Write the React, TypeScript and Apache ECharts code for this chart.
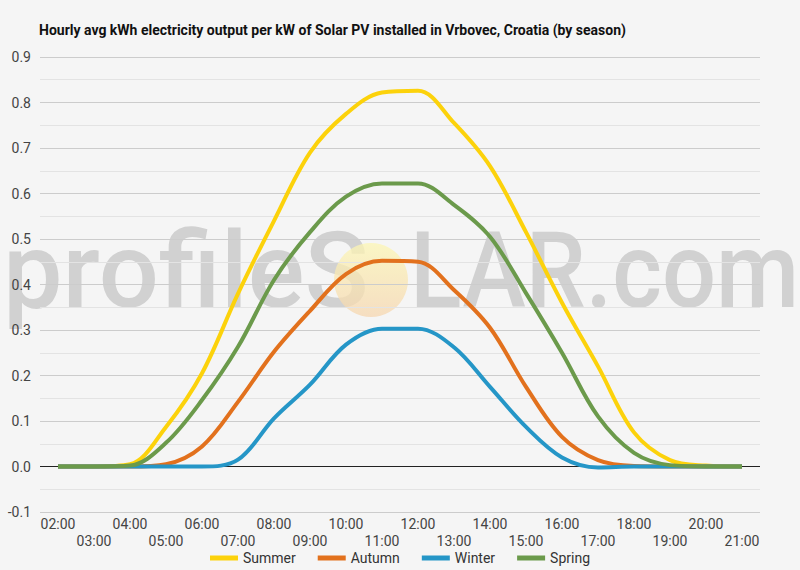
import React, { useEffect, useRef } from "react";
import * as echarts from "echarts";

const hours = [
  "02:00", "03:00", "04:00", "05:00", "06:00", "07:00", "08:00", "09:00", "10:00", "11:00",
  "12:00", "13:00", "14:00", "15:00", "16:00", "17:00", "18:00", "19:00", "20:00", "21:00",
];

const summer = [0, 0, 0.005, 0.087, 0.205, 0.38, 0.54, 0.69, 0.775, 0.822, 0.826, 0.755, 0.66, 0.515, 0.36, 0.22, 0.075, 0.014, 0.002, 0];
const autumn = [0, 0, 0, 0.005, 0.044, 0.142, 0.252, 0.342, 0.423, 0.452, 0.45, 0.388, 0.305, 0.175, 0.065, 0.014, 0.001, 0, 0, 0];
const winter = [0, 0, 0, 0, 0, 0.015, 0.106, 0.18, 0.268, 0.303, 0.303, 0.262, 0.175, 0.087, 0.02, -0.002, 0, 0, 0, 0];
const spring = [0, 0, 0.002, 0.052, 0.146, 0.263, 0.41, 0.515, 0.593, 0.622, 0.622, 0.575, 0.505, 0.381, 0.25, 0.11, 0.03, 0.003, 0, 0];

const seasons = ["Summer", "Autumn", "Winter", "Spring"];
const colors = ["#fcd20b", "#e2711d", "#2596c7", "#6b9a4b"];
const FONT = "Roboto, 'Noto Sans', sans-serif";

const App: React.FC = () => {
  const chartRef = useRef<HTMLDivElement>(null);

  useEffect(() => {
    document.body.style.margin = "0";
    if (!chartRef.current) return;
    const myChart = echarts.init(chartRef.current, undefined, { renderer: "svg" });

    const values = [summer, autumn, winter, spring];

    const option: echarts.EChartsOption = {
      animation: false,
      backgroundColor: "#f5f5f5",
      textStyle: { fontFamily: FONT },
      title: {
        text: "Hourly avg kWh electricity output per kW of Solar PV installed in Vrbovec, Croatia (by season)",
        left: 34,
        top: 18,
        textStyle: { fontSize: 14, fontWeight: "bold", color: "#111", fontFamily: FONT },
      },
      legend: {
        data: seasons,
        bottom: 0,
        left: "center",
        icon: "rect",
        itemWidth: 28,
        itemHeight: 5,
        itemGap: 22,
        textStyle: { fontSize: 14, color: "#333", fontFamily: FONT },
      },
      grid: { left: 40, right: 40, top: 57, bottom: 58 },
      xAxis: {
        type: "category",
        data: hours,
        boundaryGap: true,
        axisLine: { show: false, onZero: false },
        axisTick: { show: false },
        axisLabel: {
          interval: 0,
          fontSize: 14,
          color: "#444",
          lineHeight: 17,
          margin: 3,
          fontFamily: FONT,
          formatter: (v: string, i: number) => (i % 2 === 0 ? v : "\n" + v),
        },
      },
      yAxis: {
        type: "value",
        min: -0.1,
        max: 0.9,
        interval: 0.1,
        axisLine: { show: false },
        axisTick: { show: false },
        axisLabel: {
          fontSize: 14,
          color: "#444",
          margin: 9,
          fontFamily: FONT,
          formatter: (v: number) => v.toFixed(1),
        },
        splitLine: { lineStyle: { color: "#cccccc", width: 1 } },
        minorTick: { show: false, splitNumber: 2 },
        minorSplitLine: { show: true, lineStyle: { color: "#e3e3e3", width: 1 } },
      },
      series: seasons.map((name, i) => ({
        name,
        type: "line" as const,
        data: values[i],
        smooth: 0.35,
        symbol: "none",
        lineStyle: { width: 4, color: colors[i] },
        itemStyle: { color: colors[i] },
        z: 3 + i,
        markLine:
          i === 0
            ? {
                silent: true,
                symbol: "none",
                label: { show: false },
                lineStyle: { color: "#222", width: 1, type: "solid" },
                data: [{ yAxis: 0 }],
                z: 2,
              }
            : undefined,
      })),
      graphic: [
        {
          type: "group",
          z: 100,
          silent: true,
          children: [
            {
              type: "text",
              x: 3,
              y: 324,
              style: {
                text: "profileS",
                fontSize: 106,
                fontFamily: FONT,
                fontWeight: 500,
                fill: "rgba(150,150,150,0.38)",
                verticalAlign: "bottom",
              } as any,
            },
            {
              type: "circle",
              shape: { cx: 371, cy: 280, r: 37 },
              style: {
                fill: new echarts.graphic.LinearGradient(0, 0, 0, 1, [
                  { offset: 0, color: "rgba(252,246,180,0.75)" },
                  { offset: 1, color: "rgba(246,214,176,0.75)" },
                ]),
              },
            },
            {
              type: "text",
              x: 410,
              y: 324,
              scaleX: 0.9,
              originX: 0,
              style: {
                text: "LAR.com",
                fontSize: 106,
                fontFamily: FONT,
                fontWeight: 500,
                fill: "rgba(150,150,150,0.38)",
                verticalAlign: "bottom",
              } as any,
            },
          ],
        },
      ],
    };

    myChart.setOption(option);
    return () => {
      myChart.dispose();
    };
  }, []);

  return <div ref={chartRef} style={{ width: 800, height: 570 }} />;
};

export default App;
